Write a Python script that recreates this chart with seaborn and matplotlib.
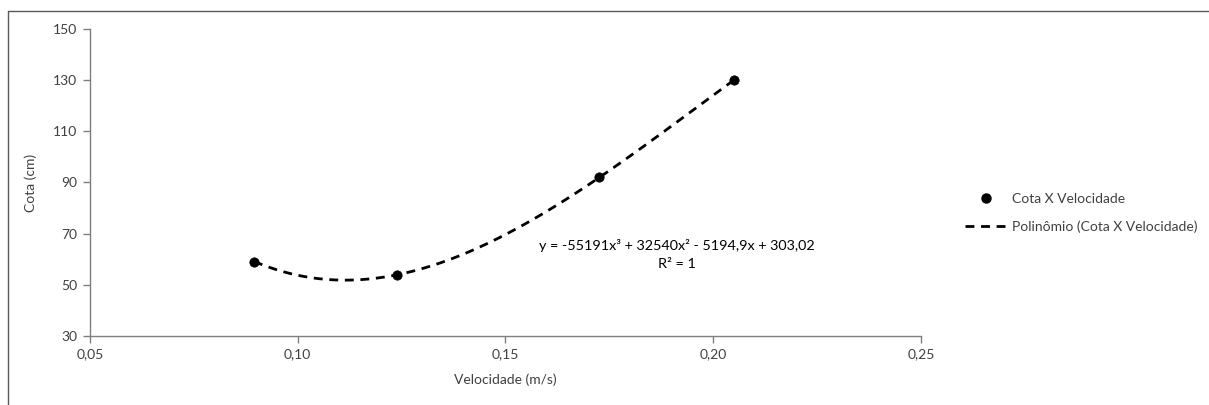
import numpy as np
import pandas as pd
import matplotlib
matplotlib.use("Agg")
import matplotlib.pyplot as plt
import seaborn as sns
from matplotlib.lines import Line2D

# Measured points
velocidade = [0.0895, 0.124, 0.1725, 0.205]
cota = [59, 54, 92, 130]

# Cubic trendline coefficients (highest power first)
coef = [-55191, 32540, -5194.9, 303.02]

x_ticks = [0.05, 0.10, 0.15, 0.20, 0.25]
x_tick_labels = ["0,05", "0,10", "0,15", "0,20", "0,25"]
y_ticks = [30, 50, 70, 90, 110, 130, 150]

sns.set_theme(style="white")
plt.rcParams["font.family"] = ["Lato", "DejaVu Sans"]

text_color = "#404040"
spine_color = "#7f7f7f"
fs = 10
dash = (0, (3.2, 2.4))

fig = plt.figure(figsize=(12.09, 4.05), dpi=100)
ax = fig.add_axes([0.0744, 0.1704, 0.6874, 0.758])

df = pd.DataFrame({"Velocidade": velocidade, "Cota": cota})
xs = np.linspace(min(velocidade), max(velocidade), 200)
trend = pd.DataFrame({"Velocidade": xs, "Cota": np.polyval(coef, xs)})

sns.lineplot(data=trend, x="Velocidade", y="Cota", ax=ax, color="black",
             linewidth=2.0, zorder=2)
ax.lines[-1].set_linestyle(dash)
sns.scatterplot(data=df, x="Velocidade", y="Cota", ax=ax, color="black",
                s=45, edgecolor="black", zorder=3)

ax.set_xlim(0.05, 0.25)
ax.set_ylim(30, 150)
ax.set_xticks(x_ticks)
ax.set_xticklabels(x_tick_labels)
ax.set_yticks(y_ticks)

for side in ["top", "right"]:
    ax.spines[side].set_visible(False)
for side in ["left", "bottom"]:
    ax.spines[side].set_color(spine_color)
    ax.spines[side].set_linewidth(1.0)

ax.tick_params(axis="both", direction="out", length=5, width=1,
               color=spine_color, labelsize=fs, labelcolor=text_color,
               left=True, bottom=True, pad=4)
ax.set_xlabel("Velocidade (m/s)", fontsize=fs, color=text_color, labelpad=9)
ax.set_ylabel("Cota (cm)", fontsize=fs, color=text_color, labelpad=12)

ax.text(0.1913, 61.8, "y = -55191x³ + 32540x² - 5194,9x + 303,02\nR² = 1",
        ha="center", va="center", fontsize=10.4, color="black", linespacing=1.55)

handles = [
    Line2D([], [], marker="o", linestyle="none", color="black", markersize=6.5),
    Line2D([], [], linestyle=dash, color="black", linewidth=2.0),
]
leg = fig.legend(handles, ["Cota X Velocidade", "Polinômio (Cota X Velocidade)"],
                 loc="center left", bbox_to_anchor=(0.788, 0.475), frameon=False,
                 fontsize=fs, handlelength=3.0, labelspacing=1.1, handletextpad=0.35)
for t in leg.get_texts():
    t.set_color(text_color)

# Chart area frame
fig.add_artist(Line2D([0.0066, 0.0066], [0.0, 0.973], transform=fig.transFigure,
                      color="#595959", linewidth=1.0))
fig.add_artist(Line2D([0.0066, 1.0], [0.973, 0.973], transform=fig.transFigure,
                      color="#595959", linewidth=1.0))

fig.savefig("out.png", dpi=100)
